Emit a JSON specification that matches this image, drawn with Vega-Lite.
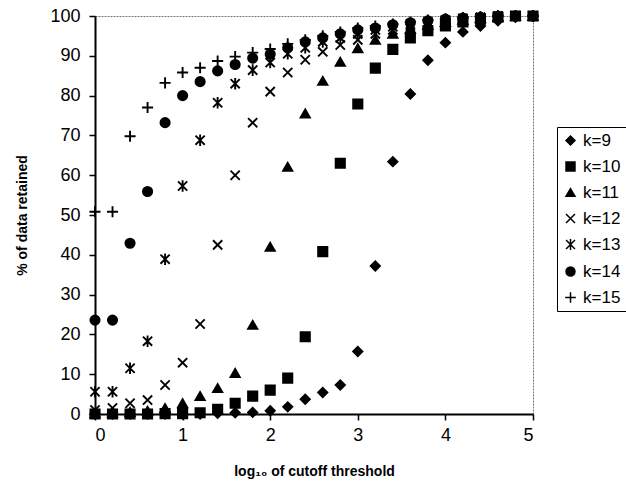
{
  "$schema": "https://vega.github.io/schema/vega-lite/v6.json",
  "width": 438,
  "height": 398,
  "autosize": {"type": "none"},
  "padding": {"left": 95, "top": 16, "right": 93, "bottom": 74},
  "background": "white",
  "config": {
    "font": "Liberation Sans",
    "view": {"stroke": "#777777", "strokeDash": [2, 1], "strokeWidth": 1},
    "axis": {"grid": false, "domainColor": "black", "tickColor": "black", "labelColor": "black", "titleColor": "black", "domainWidth": 2, "tickWidth": 1.5, "tickSize": 6, "labelFontSize": 18, "titleFontSize": 14, "titleFontWeight": "bold", "labelFont": "Liberation Sans", "titleFont": "Liberation Sans"}
  },
  "data": {"values": [
    {"x":0.0,"k":"k=9","v":0},{"x":0.2,"k":"k=9","v":0},{"x":0.4,"k":"k=9","v":0},{"x":0.6,"k":"k=9","v":0},{"x":0.8,"k":"k=9","v":0},{"x":1.0,"k":"k=9","v":0},{"x":1.2,"k":"k=9","v":0},{"x":1.4,"k":"k=9","v":0.2},{"x":1.6,"k":"k=9","v":0.3},{"x":1.8,"k":"k=9","v":0.4},{"x":2.0,"k":"k=9","v":0.8},{"x":2.2,"k":"k=9","v":1.8},{"x":2.4,"k":"k=9","v":3.7},{"x":2.6,"k":"k=9","v":5.4},{"x":2.8,"k":"k=9","v":7.3},{"x":3.0,"k":"k=9","v":15.7},{"x":3.2,"k":"k=9","v":37.2},{"x":3.4,"k":"k=9","v":63.4},{"x":3.6,"k":"k=9","v":80.4},{"x":3.8,"k":"k=9","v":88.9},{"x":4.0,"k":"k=9","v":93.3},{"x":4.2,"k":"k=9","v":96.0},{"x":4.4,"k":"k=9","v":97.5},{"x":4.6,"k":"k=9","v":98.8},{"x":4.8,"k":"k=9","v":99.7},{"x":5.0,"k":"k=9","v":100},
    {"x":0.0,"k":"k=10","v":0},{"x":0.2,"k":"k=10","v":0},{"x":0.4,"k":"k=10","v":0},{"x":0.6,"k":"k=10","v":0},{"x":0.8,"k":"k=10","v":0.1},{"x":1.0,"k":"k=10","v":0.1},{"x":1.2,"k":"k=10","v":0.3},{"x":1.4,"k":"k=10","v":1.2},{"x":1.6,"k":"k=10","v":2.7},{"x":1.8,"k":"k=10","v":4.5},{"x":2.0,"k":"k=10","v":6.0},{"x":2.2,"k":"k=10","v":9.0},{"x":2.4,"k":"k=10","v":19.4},{"x":2.6,"k":"k=10","v":40.8},{"x":2.8,"k":"k=10","v":63.0},{"x":3.0,"k":"k=10","v":77.9},{"x":3.2,"k":"k=10","v":86.9},{"x":3.4,"k":"k=10","v":91.6},{"x":3.6,"k":"k=10","v":94.5},{"x":3.8,"k":"k=10","v":96.3},{"x":4.0,"k":"k=10","v":97.5},{"x":4.2,"k":"k=10","v":98.5},{"x":4.4,"k":"k=10","v":99.2},{"x":4.6,"k":"k=10","v":99.7},{"x":4.8,"k":"k=10","v":100},{"x":5.0,"k":"k=10","v":100},
    {"x":0.0,"k":"k=11","v":0.2},{"x":0.2,"k":"k=11","v":0.3},{"x":0.4,"k":"k=11","v":0.5},{"x":0.6,"k":"k=11","v":0.8},{"x":0.8,"k":"k=11","v":1.5},{"x":1.0,"k":"k=11","v":2.7},{"x":1.2,"k":"k=11","v":4.5},{"x":1.4,"k":"k=11","v":6.5},{"x":1.6,"k":"k=11","v":10.3},{"x":1.8,"k":"k=11","v":22.4},{"x":2.0,"k":"k=11","v":42.0},{"x":2.2,"k":"k=11","v":62.1},{"x":2.4,"k":"k=11","v":75.5},{"x":2.6,"k":"k=11","v":83.7},{"x":2.8,"k":"k=11","v":88.5},{"x":3.0,"k":"k=11","v":91.9},{"x":3.2,"k":"k=11","v":94.0},{"x":3.4,"k":"k=11","v":95.5},{"x":3.6,"k":"k=11","v":96.8},{"x":3.8,"k":"k=11","v":97.7},{"x":4.0,"k":"k=11","v":98.5},{"x":4.2,"k":"k=11","v":99.0},{"x":4.4,"k":"k=11","v":99.5},{"x":4.6,"k":"k=11","v":99.8},{"x":4.8,"k":"k=11","v":100},{"x":5.0,"k":"k=11","v":100},
    {"x":0.0,"k":"k=12","v":1.0},{"x":0.2,"k":"k=12","v":1.5},{"x":0.4,"k":"k=12","v":2.7},{"x":0.6,"k":"k=12","v":3.5},{"x":0.8,"k":"k=12","v":7.3},{"x":1.0,"k":"k=12","v":12.9},{"x":1.2,"k":"k=12","v":22.6},{"x":1.4,"k":"k=12","v":42.5},{"x":1.6,"k":"k=12","v":60.0},{"x":1.8,"k":"k=12","v":73.2},{"x":2.0,"k":"k=12","v":81.0},{"x":2.2,"k":"k=12","v":85.8},{"x":2.4,"k":"k=12","v":89.0},{"x":2.6,"k":"k=12","v":91.0},{"x":2.8,"k":"k=12","v":92.7},{"x":3.0,"k":"k=12","v":94.0},{"x":3.2,"k":"k=12","v":95.5},{"x":3.4,"k":"k=12","v":96.5},{"x":3.6,"k":"k=12","v":97.5},{"x":3.8,"k":"k=12","v":98.2},{"x":4.0,"k":"k=12","v":98.8},{"x":4.2,"k":"k=12","v":99.2},{"x":4.4,"k":"k=12","v":99.6},{"x":4.6,"k":"k=12","v":99.9},{"x":4.8,"k":"k=12","v":100},{"x":5.0,"k":"k=12","v":100},
    {"x":0.0,"k":"k=13","v":5.6},{"x":0.2,"k":"k=13","v":5.6},{"x":0.4,"k":"k=13","v":11.5},{"x":0.6,"k":"k=13","v":18.3},{"x":0.8,"k":"k=13","v":38.9},{"x":1.0,"k":"k=13","v":57.3},{"x":1.2,"k":"k=13","v":68.8},{"x":1.4,"k":"k=13","v":78.2},{"x":1.6,"k":"k=13","v":83.0},{"x":1.8,"k":"k=13","v":86.4},{"x":2.0,"k":"k=13","v":88.3},{"x":2.2,"k":"k=13","v":90.5},{"x":2.4,"k":"k=13","v":92.0},{"x":2.6,"k":"k=13","v":93.5},{"x":2.8,"k":"k=13","v":94.5},{"x":3.0,"k":"k=13","v":95.5},{"x":3.2,"k":"k=13","v":96.5},{"x":3.4,"k":"k=13","v":97.3},{"x":3.6,"k":"k=13","v":98.0},{"x":3.8,"k":"k=13","v":98.5},{"x":4.0,"k":"k=13","v":99.0},{"x":4.2,"k":"k=13","v":99.4},{"x":4.4,"k":"k=13","v":99.7},{"x":4.6,"k":"k=13","v":100},{"x":4.8,"k":"k=13","v":100},{"x":5.0,"k":"k=13","v":100},
    {"x":0.0,"k":"k=14","v":23.6},{"x":0.2,"k":"k=14","v":23.6},{"x":0.4,"k":"k=14","v":42.9},{"x":0.6,"k":"k=14","v":55.9},{"x":0.8,"k":"k=14","v":73.2},{"x":1.0,"k":"k=14","v":80.0},{"x":1.2,"k":"k=14","v":83.5},{"x":1.4,"k":"k=14","v":86.2},{"x":1.6,"k":"k=14","v":87.8},{"x":1.8,"k":"k=14","v":89.4},{"x":2.0,"k":"k=14","v":90.4},{"x":2.2,"k":"k=14","v":92.0},{"x":2.4,"k":"k=14","v":93.5},{"x":2.6,"k":"k=14","v":94.5},{"x":2.8,"k":"k=14","v":95.5},{"x":3.0,"k":"k=14","v":96.5},{"x":3.2,"k":"k=14","v":97.0},{"x":3.4,"k":"k=14","v":97.8},{"x":3.6,"k":"k=14","v":98.3},{"x":3.8,"k":"k=14","v":98.8},{"x":4.0,"k":"k=14","v":99.2},{"x":4.2,"k":"k=14","v":99.5},{"x":4.4,"k":"k=14","v":99.7},{"x":4.6,"k":"k=14","v":100},{"x":4.8,"k":"k=14","v":100},{"x":5.0,"k":"k=14","v":100},
    {"x":0.0,"k":"k=15","v":50.8},{"x":0.2,"k":"k=15","v":50.8},{"x":0.4,"k":"k=15","v":69.8},{"x":0.6,"k":"k=15","v":77.0},{"x":0.8,"k":"k=15","v":83.2},{"x":1.0,"k":"k=15","v":85.8},{"x":1.2,"k":"k=15","v":87.0},{"x":1.4,"k":"k=15","v":88.7},{"x":1.6,"k":"k=15","v":89.8},{"x":1.8,"k":"k=15","v":90.8},{"x":2.0,"k":"k=15","v":91.7},{"x":2.2,"k":"k=15","v":93.0},{"x":2.4,"k":"k=15","v":94.0},{"x":2.6,"k":"k=15","v":95.0},{"x":2.8,"k":"k=15","v":96.0},{"x":3.0,"k":"k=15","v":97.0},{"x":3.2,"k":"k=15","v":97.5},{"x":3.4,"k":"k=15","v":98.0},{"x":3.6,"k":"k=15","v":98.5},{"x":3.8,"k":"k=15","v":99.0},{"x":4.0,"k":"k=15","v":99.3},{"x":4.2,"k":"k=15","v":99.6},{"x":4.4,"k":"k=15","v":99.8},{"x":4.6,"k":"k=15","v":100},{"x":4.8,"k":"k=15","v":100},{"x":5.0,"k":"k=15","v":100}
  ]},
  "mark": {"type": "point", "filled": true, "fill": "black", "stroke": "black", "strokeWidth": 1.9, "size": 85, "opacity": 1, "clip": false},
  "encoding": {
    "x": {"field": "x", "type": "quantitative", "scale": {"domain": [0, 5], "nice": false, "zero": false},
      "axis": {"values": [0, 1, 2, 3, 4, 5], "format": "d", "title": "log₁₀ of cutoff threshold", "labelPadding": 6, "titlePadding": 20}},
    "y": {"field": "v", "type": "quantitative", "scale": {"domain": [0, 100], "nice": false},
      "axis": {"values": [0, 10, 20, 30, 40, 50, 60, 70, 80, 90, 100], "title": "% of data retained", "labelPadding": 9, "titlePadding": 20}},
    "shape": {"field": "k", "type": "nominal",
      "scale": {"domain": ["k=9", "k=10", "k=11", "k=12", "k=13", "k=14", "k=15"],
        "range": ["diamond", "square", "triangle-up", "M-1,-1L1,1M-1,1L1,-1", "M-1,-1L1,1M-1,1L1,-1M0,-1.25L0,1.25", "circle", "M-1.2,0L1.2,0M0,-1.2L0,1.2"]},
      "legend": {"title": null, "orient": "none", "legendX": 462, "legendY": 111, "padding": 5, "strokeColor": "black", "fillColor": "white", "labelFontSize": 17, "labelFont": "Liberation Sans", "labelColor": "black", "labelOffset": 4, "rowPadding": 8, "symbolSize": 80,
        "encode": {"symbols": {"enter": {"stroke": {"value": "black"}, "strokeWidth": {"value": 2}, "strokeOpacity": {"value": 1}, "strokeDash": {"value": []}}, "update": {"stroke": {"value": "black"}, "strokeWidth": {"value": 2}, "strokeOpacity": {"value": 1}, "fill": {"value": "black"}, "opacity": {"value": 1}}}}}}
  }
}
